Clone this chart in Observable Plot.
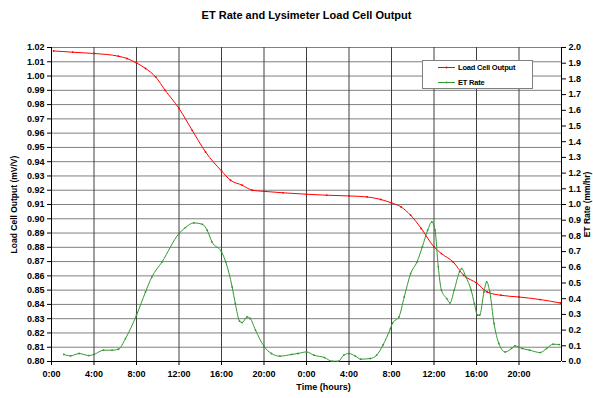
<!DOCTYPE html>
<html><head><meta charset="utf-8">
<script src="https://cdn.jsdelivr.net/npm/d3@7"></script>
<script src="https://cdn.jsdelivr.net/npm/@observablehq/plot@0.6"></script>
<style>
body{margin:0;background:#fff;}
#wrap{width:593px;height:398px;}
</style></head><body><div id="wrap"></div>
<script>
const title = "ET Rate and Lysimeter Load Cell Output";
const xLabel = "Time (hours)";
const yLeftLabel = "Load Cell Output (mV/V)";
const yRightLabel = "ET Rate (mm/hr)";
const seriesNames = ["Load Cell Output", "ET Rate"];

const xTicks = [0, 4, 8, 12, 16, 20, 24, 28, 32, 36, 40, 44, 48];
const leftTicks = d3.range(0, 23).map(i => +(0.80 + i * 0.01).toFixed(2));
const rightTicks = d3.range(0, 21).map(i => +(i * 0.1).toFixed(1));

const hoursLC = [0.2, 2, 4, 6.3, 7.1, 8, 8.85, 9.8, 10.7, 12, 13.24, 14.5, 16, 16.85, 17.95, 18.9, 20, 21.8, 24, 25.9, 28, 29.7, 31, 32, 32.9, 33.8, 34.8, 36, 36.7, 37.8, 38.8, 40, 41, 42.3, 44, 46, 47.9];
const loadCell = [1.0176, 1.0167, 1.0158, 1.0139, 1.0123, 1.0092, 1.0053, 0.9994, 0.990, 0.9773, 0.962, 0.9468, 0.9335, 0.927, 0.9235, 0.920, 0.9192, 0.9182, 0.9172, 0.9165, 0.916, 0.9153, 0.9135, 0.9111, 0.9083, 0.9025, 0.8932, 0.8803, 0.8756, 0.8698, 0.8604, 0.8550, 0.8487, 0.8464, 0.8452, 0.8434, 0.841];

const hoursET = [1.16, 1.8, 2.6, 3.5, 4, 4.9, 5.7, 6.3, 6.96, 8, 8.85, 9.45, 10.4, 12, 12.6, 13.4, 14.2, 14.65, 15.1, 16, 16.4, 17, 17.3, 17.7, 17.95, 18.4, 18.7, 19.2, 20, 20.7, 21.5, 22.6, 23.2, 24, 24.7, 25.7, 26.4, 27, 27.5, 28, 28.6, 29.1, 30, 30.6, 31.2, 31.9, 32.1, 32.7, 33.2, 33.8, 34.4, 34.9, 35.4, 35.8, 36.1, 36.4, 36.7, 37.2, 37.5, 37.9, 38.4, 38.6, 39, 39.5, 39.8, 40.1, 40.3, 40.7, 40.96, 41.25, 41.65, 42.1, 42.7, 43.3, 43.6, 44.3, 45, 46, 46.6, 47.2, 47.8];
const etRate = [0.045, 0.036, 0.051, 0.038, 0.045, 0.072, 0.072, 0.078, 0.146, 0.295, 0.443, 0.539, 0.634, 0.815, 0.853, 0.883, 0.874, 0.836, 0.762, 0.698, 0.634, 0.475, 0.369, 0.257, 0.248, 0.284, 0.274, 0.2, 0.097, 0.051, 0.034, 0.045, 0.051, 0.061, 0.04, 0.025, 0.002, 0.002, 0.04, 0.051, 0.034, 0.015, 0.019, 0.04, 0.105, 0.21, 0.245, 0.284, 0.411, 0.56, 0.634, 0.73, 0.836, 0.889, 0.836, 0.603, 0.454, 0.401, 0.373, 0.454, 0.571, 0.592, 0.539, 0.454, 0.369, 0.295, 0.295, 0.443, 0.507, 0.443, 0.242, 0.115, 0.061, 0.083, 0.1, 0.083, 0.072, 0.057, 0.083, 0.11, 0.108];

const colors = ["#ff0000", "#339933"];
// right axis (0..2) mapped onto left scale (0.80..1.02)
const toLeft = v => 0.80 + v * 0.11;

const lc = hoursLC.map((h, i) => ({h, v: loadCell[i]}));
const et = hoursET.map((h, i) => ({h, v: toLeft(etRate[i])}));

const font = "'Liberation Sans', Arial, sans-serif";

const chart = Plot.plot({
  width: 593, height: 398,
  marginTop: 47, marginLeft: 51, marginRight: 32, marginBottom: 37,
  style: {fontFamily: font, fontSize: "9px", fontWeight: "bold", background: "#fff", color: "#000"},
  x: {domain: [0, 48]},
  y: {domain: [0.80, 1.02]},
  marks: [
    Plot.gridY(leftTicks, {stroke: "#808080", strokeOpacity: 1, strokeWidth: 1}),
    Plot.gridX(xTicks, {stroke: "#404040", strokeOpacity: 1, strokeWidth: 1}),
    Plot.ruleX([0, 48], {stroke: "#000"}),
    Plot.ruleY([0.80], {stroke: "#000"}),
    Plot.axisY(leftTicks, {anchor: "left", tickSize: 4, tickPadding: 3, tickFormat: d => d.toFixed(2), label: null}),
    Plot.axisY(rightTicks.map(toLeft), {anchor: "right", tickSize: 4, tickPadding: 3, tickFormat: d => ((d - 0.8) / 0.11).toFixed(1), label: null}),
    Plot.axisX(xTicks.slice(0, -1), {anchor: "bottom", tickSize: 4, tickPadding: 5, tickFormat: d => `${d % 24}:00`, label: null}),
    Plot.line(lc, {x: "h", y: "v", stroke: colors[0], strokeWidth: 1, curve: "monotone-x"}),
    Plot.dot(lc, {x: "h", y: "v", r: 0.9, fill: colors[0], stroke: null}),
    Plot.line(et, {x: "h", y: "v", stroke: colors[1], strokeWidth: 1, curve: "monotone-x"}),
    Plot.dot(et, {x: "h", y: "v", r: 0.9, fill: colors[1], stroke: null}),
    Plot.text([title], {text: d => d, frameAnchor: "top", dy: -32, lineAnchor: "middle", textAnchor: "middle", fontSize: 11, fontWeight: "bold"}),
    Plot.text([xLabel], {text: d => d, frameAnchor: "bottom", dx: 17, dy: 26, lineAnchor: "middle", textAnchor: "middle", fontSize: 9, fontWeight: "bold"}),
    Plot.text([yLeftLabel], {text: d => d, frameAnchor: "left", dx: -37, rotate: -90, lineAnchor: "middle", textAnchor: "middle", fontSize: 8.5, fontWeight: "bold"}),
    Plot.text([yRightLabel], {text: d => d, frameAnchor: "right", dx: 26, rotate: -90, lineAnchor: "middle", textAnchor: "middle", fontSize: 8.5, fontWeight: "bold"})
  ]
});

// legend box
const svg = d3.select(chart);
const g = svg.append("g").attr("font-family", font).attr("font-weight", "bold").attr("font-size", 7.5).attr("text-anchor", "start");
g.append("rect").attr("x", 422.5).attr("y", 60.5).attr("width", 110).attr("height", 28).attr("fill", "#fff").attr("stroke", "#808080");
seriesNames.forEach((name, i) => {
  const yy = 67.5 + i * 15;
  g.append("line").attr("x1", 438).attr("x2", 455).attr("y1", yy).attr("y2", yy).attr("stroke", colors[i]).attr("stroke-width", 1);
  g.append("circle").attr("cx", 446.5).attr("cy", yy).attr("r", 1).attr("fill", colors[i]);
  g.append("text").attr("x", 458).attr("y", yy).attr("dy", "0.35em").attr("text-anchor", "start").attr("fill", "#000").attr("letter-spacing", "-0.2").text(name);
});

document.getElementById("wrap").appendChild(chart);
</script></body></html>
